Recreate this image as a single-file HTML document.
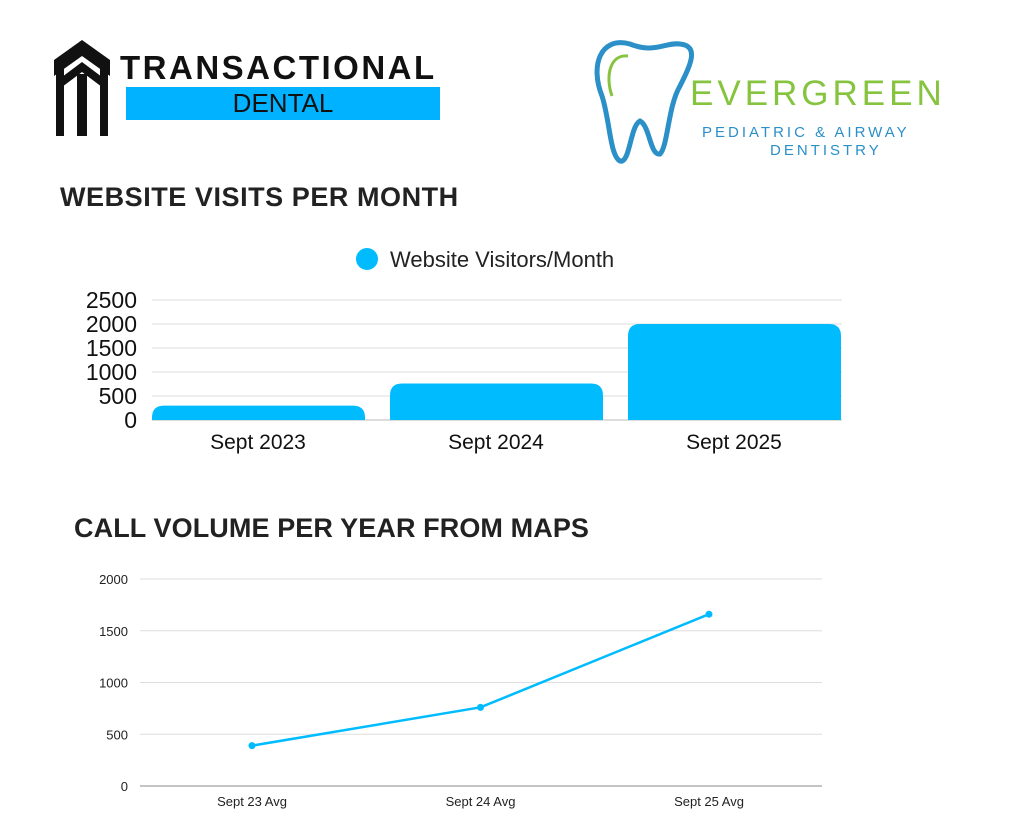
<!DOCTYPE html>
<html><head><meta charset="utf-8"><style>
body{margin:0;width:1024px;height:826px;background:#fff;font-family:"Liberation Sans",sans-serif;position:relative;overflow:hidden}
.abs{position:absolute}
h2{margin:0;position:absolute;font-weight:bold;color:#222}
</style></head><body>
<div class="abs" style="left:52px;top:38px;width:395px;height:100px">
<svg width="60" height="100" style="position:absolute;left:0;top:0">
<path d="M30 2 L58 22 L58 38 L30 18 L2 38 L2 22Z" fill="#111"/>
<path d="M30 24 L54 42 L54 52 L30 34 L6 52 L6 42Z" fill="#111"/>
<rect x="4" y="30" width="8" height="68" fill="#111"/><rect x="48" y="30" width="8" height="68" fill="#111"/>
<rect x="25" y="36" width="10" height="62" fill="#111"/>
</svg>
<div class="abs" style="left:68px;top:11px;font-weight:900;font-size:33px;color:#111;letter-spacing:2.5px">TRANSACTIONAL</div>
<div class="abs" style="left:74px;top:49px;width:314px;height:33px;background:#00b2ff;text-align:center;font-size:26px;line-height:33px;color:#111">DENTAL</div>
</div>
<div class="abs" style="left:590px;top:36px;width:380px;height:130px">
<svg width="120" height="130" style="position:absolute;left:0;top:0">
<path d="M40 8 C10 0 0 30 12 60 C20 85 20 120 30 125 C40 128 40 90 50 85 C60 90 60 120 70 118 C78 110 78 70 90 50 C100 30 110 10 90 8 C75 6 65 18 40 8Z" fill="none" stroke="#2b8fc8" stroke-width="5"/>
<path d="M38 20 C20 18 15 40 22 60" fill="none" stroke="#86c440" stroke-width="3"/>
<path d="M128 10 l2 -8 l2 8 l8 2 l-8 2 l-2 8 l-2 -8 l-8 -2z" fill="#2b8fc8"/>
</svg>
<div class="abs" style="left:100px;top:38px;font-size:35px;color:#86c440;letter-spacing:4px">EVERGREEN</div>
<div class="abs" style="left:112px;top:88px;font-size:15px;color:#2b8fc8;letter-spacing:3px">PEDIATRIC &amp; AIRWAY</div>
<div class="abs" style="left:180px;top:106px;font-size:15px;color:#2b8fc8;letter-spacing:3px">DENTISTRY</div>
</div>
<h2 style="left:60px;top:182px;font-size:27px;letter-spacing:0.55px">WEBSITE VISITS PER MONTH</h2>
<h2 style="left:74px;top:513px;font-size:27px;letter-spacing:0.1px">CALL VOLUME PER YEAR FROM MAPS</h2>
<svg class="abs" style="left:0;top:0" width="1024" height="826" id="charts"></svg>
<script>
const barCats=["Sept 2023","Sept 2024","Sept 2025"];
const barVals=[300,760,2000];
const barTicks=[0,500,1000,1500,2000,2500];
const lineCats=["Sept 23 Avg","Sept 24 Avg","Sept 25 Avg"];
const lineVals=[390,760,1660];
const lineTicks=[0,500,1000,1500,2000];
const NS="http://www.w3.org/2000/svg",svg=document.getElementById("charts");
function mk(t,a,txt){const e=document.createElementNS(NS,t);for(const k in a)e.setAttribute(k,a[k]);if(txt!=null)e.textContent=txt;svg.appendChild(e);return e;}
const by=v=>420-v*(120/2500), bx0=152, bw=230;
barTicks.forEach(t=>{
 const l=mk("line",{x1:bx0,x2:842,y1:by(t),y2:by(t),stroke:t?"#ddd":"#bbb","stroke-width":1});
 
 
 const tx=mk("text",{x:137,y:by(t)+8,"text-anchor":"end","font-size":23,fill:"#111"},t);
 
 
});
barCats.forEach((c,i)=>{
 const x=bx0+i*(bw+8), y=by(barVals[i]), h=420-y, r=Math.min(12,h);
 const p=mk("path",{d:`M${x} 420 V${y+r} Q${x} ${y} ${x+r} ${y} H${x+213-r} Q${x+213} ${y} ${x+213} ${y+r} V420Z`,fill:"#00bcff"});
 
 
 const t=mk("text",{x:x+106,y:449,"text-anchor":"middle","font-size":21,fill:"#111"},c);
 
 
});
const lc=mk("circle",{cx:367,cy:259,r:11,fill:"#00bcff"});


const lt=mk("text",{x:390,y:267,"font-size":22,fill:"#222"},"Website Visitors/Month");


const ly=v=>786-v*(207/2000), lx=i=>252+i*228.5;
lineTicks.forEach(t=>{
 const l=mk("line",{x1:140,x2:822,y1:ly(t),y2:ly(t),stroke:t?"#ddd":"#888","stroke-width":1});
 
 
 const tx=mk("text",{x:128,y:ly(t)+5,"text-anchor":"end","font-size":13,fill:"#222"},t);
 
 
});
const pl=mk("polyline",{points:lineVals.map((v,i)=>lx(i)+","+ly(v)).join(" "),fill:"none",stroke:"#00bcff","stroke-width":2.5});


lineCats.forEach((c,i)=>{
 const d=mk("circle",{cx:lx(i),cy:ly(lineVals[i]),r:3.5,fill:"#00bcff"});
 
 
 const t=mk("text",{x:lx(i),y:806,"text-anchor":"middle","font-size":13,fill:"#222"},c);
 
 
});
</script>
</body></html>
